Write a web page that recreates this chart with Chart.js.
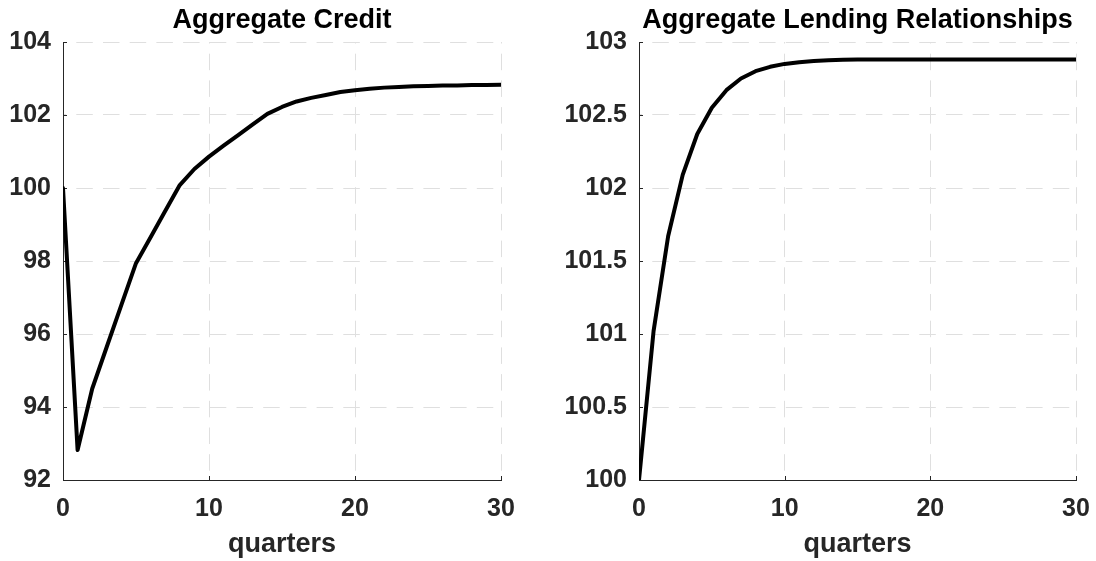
<!DOCTYPE html>
<html>
<head>
<meta charset="utf-8">
<script src="https://cdn.jsdelivr.net/npm/chart.js@4.4.0/dist/chart.umd.min.js"></script>
<style>
  body { margin: 0; background: #fff; }
  #wrap { position: relative; width: 1096px; height: 561px; }
  canvas { position: absolute; top: 0; }
</style>
</head>
<body>
<div id="wrap">
  <canvas id="credit" width="548" height="561" style="left:0"></canvas>
  <canvas id="lending" width="548" height="561" style="left:548px"></canvas>
</div>
<script>
// values
const quarters = [0, 1, 2, 3, 4, 5, 6, 7, 8, 9, 10, 11, 12, 13, 14, 15,
  16, 17, 18, 19, 20, 21, 22, 23, 24, 25, 26, 27, 28, 29, 30];
const creditValues = [100, 92.82, 94.5, 95.65, 96.8, 97.94, 98.65, 99.37, 100.08, 100.52,
  100.86, 101.16, 101.45, 101.74, 102.03, 102.22, 102.37, 102.47, 102.55, 102.63,
  102.68, 102.72, 102.75, 102.77, 102.785, 102.795, 102.805, 102.81, 102.82, 102.825, 102.83];
const lendingValues = [100, 101.02, 101.67, 102.09, 102.37, 102.55, 102.67, 102.75, 102.8, 102.83,
  102.85, 102.862, 102.87, 102.875, 102.878, 102.88, 102.88, 102.88, 102.88, 102.88,
  102.88, 102.88, 102.88, 102.88, 102.88, 102.88, 102.88, 102.88, 102.88, 102.88, 102.88];
const xTicks = [0, 10, 20, 30];
const creditTicks = [92, 94, 96, 98, 100, 102, 104];
const lendingTicks = [100, 100.5, 101, 101.5, 102, 102.5, 103];

const FONT = "'Liberation Sans', Arial, Helvetica, sans-serif";
const AXIS = '#262626';
const GRID = '#dfdfdf';

// matlab style: short tick marks pointing into the axes
const innerTicks = {
  id: 'innerTicks',
  beforeDatasetsDraw(chart) {
    const { ctx, chartArea: a, scales: { x, y } } = chart;
    ctx.save();
    ctx.strokeStyle = AXIS;
    ctx.lineWidth = 1;
    ctx.beginPath();
    x.ticks.forEach(t => {
      const p = Math.round(x.getPixelForValue(t.value)) + 0.5;
      ctx.moveTo(p, a.bottom);
      ctx.lineTo(p, a.bottom - 4);
    });
    y.ticks.forEach(t => {
      const p = Math.round(y.getPixelForValue(t.value)) + 0.5;
      ctx.moveTo(a.left, p);
      ctx.lineTo(a.left + 4, p);
    });
    ctx.stroke();
    ctx.restore();
  }
};

function makeChart(id, title, values, yTicks, leftW, rightPad) {
  return new Chart(document.getElementById(id), {
    type: 'line',
    data: {
      datasets: [{
        data: quarters.map((q, i) => ({ x: q, y: values[i] })),
        borderColor: '#000',
        borderWidth: 4,
        pointRadius: 0,
        tension: 0,
        borderCapStyle: 'round',
        borderJoinStyle: 'round'
      }]
    },
    options: {
      responsive: false,
      animation: false,
      events: [],
      layout: { padding: { left: 0, right: rightPad, top: 0, bottom: 0 } },
      plugins: {
        legend: { display: false },
        tooltip: { enabled: false },
        title: {
          display: true, text: title, fullSize: false, color: '#000',
          font: { family: FONT, size: 27, weight: 'bold' },
          padding: { top: 4, bottom: 5.6 }
        }
      },
      scales: {
        x: {
          type: 'linear', min: 0, max: 30,
          afterBuildTicks: s => { s.ticks = xTicks.map(v => ({ value: v })); },
          afterFit: s => { s.height = 81; s.paddingLeft = 0; s.paddingRight = 0; },
          grid: { color: GRID, drawTicks: false },
          border: { color: AXIS, width: 1, dash: [16.5, 10.2], dashOffset: 15 },
          ticks: {
            color: AXIS, padding: 14, maxRotation: 0, autoSkip: false,
            font: { family: FONT, size: 25, weight: 'bold' }
          },
          title: {
            display: true, text: 'quarters', color: AXIS,
            font: { family: FONT, size: 27, weight: 'bold' },
            padding: { top: 0, bottom: 0 }
          }
        },
        y: {
          min: yTicks[0], max: yTicks[yTicks.length - 1],
          afterBuildTicks: s => { s.ticks = yTicks.map(v => ({ value: v })); },
          afterFit: s => { s.width = leftW; },
          grid: { color: GRID, drawTicks: false },
          border: { color: AXIS, width: 1, dash: [16.5, 10.2], dashOffset: 14.4 },
          ticks: {
            color: AXIS, padding: 12, autoSkip: false,
            font: { family: FONT, size: 25, weight: 'bold' },
            callback: v => String(v)
          }
        }
      }
    },
    plugins: [innerTicks]
  });
}

makeChart('credit', 'Aggregate Credit', creditValues, creditTicks, 63, 47);
makeChart('lending', 'Aggregate Lending Relationships', lendingValues, lendingTicks, 91, 20);
</script>
</body>
</html>
